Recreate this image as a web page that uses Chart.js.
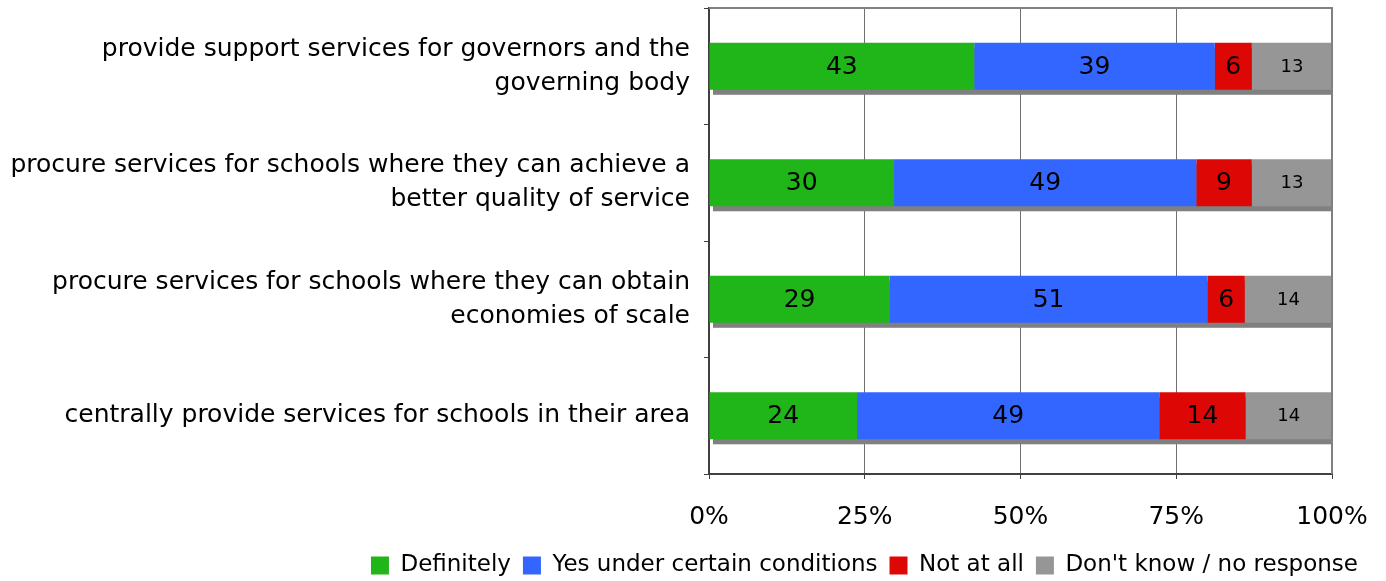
<!DOCTYPE html>
<html>
<head>
<meta charset="utf-8">
<script src="https://cdn.jsdelivr.net/npm/chart.js@4/dist/chart.umd.min.js"></script>
<style>
  html, body { margin: 0; padding: 0; background: #fff; }
  #wrap { width: 1386px; height: 581px; }
</style>
</head>
<body>
<div id="wrap"><canvas id="grafica"></canvas></div>
<script>
// Categorías (de arriba hacia abajo)
const categorias = [
  ['provide support services for governors and the', 'governing body'],
  ['procure services for schools where they can achieve a', 'better quality of service'],
  ['procure services for schools where they can obtain', 'economies of scale'],
  'centrally provide services for schools in their area'
];

// Respuestas por serie
const definitely = [43, 30, 29, 24];
const yesConditions = [39, 49, 51, 49];
const notAtAll = [6, 9, 6, 14];
const dontKnow = [13, 13, 14, 14];

const ticksX = [0, 25, 50, 75, 100];

const series = [
  { label: 'Definitely', datos: definitely, color: '#20B519' },
  { label: 'Yes under certain conditions', datos: yesConditions, color: '#3366FF' },
  { label: 'Not at all', datos: notAtAll, color: '#DD0806' },
  { label: "Don't know / no response", datos: dontKnow, color: '#969696' }
];

// Total por fila para pasar a porcentaje (barra al 100%)
const totales = categorias.map((c, i) => series.reduce((s, d) => s + d.datos[i], 0));

const FUENTE = "'DejaVu Sans', Verdana, sans-serif";

// Sombra gris bajo cada barra
const sombraBarras = {
  id: 'sombraBarras',
  beforeDatasetsDraw(chart) {
    const ctx = chart.ctx;
    const area = chart.chartArea;
    const meta = chart.getDatasetMeta(0);
    ctx.save();
    ctx.fillStyle = '#808080';
    meta.data.forEach(bar => {
      const h = bar.height;
      ctx.fillRect(area.left + 4, bar.y - h / 2 + 5, area.right - area.left - 4, h);
    });
    ctx.restore();
  }
};

// Valores escritos en el centro de cada segmento
const etiquetasBarras = {
  id: 'etiquetasBarras',
  afterDatasetsDraw(chart) {
    const ctx = chart.ctx;
    ctx.save();
    ctx.textAlign = 'center';
    ctx.textBaseline = 'middle';
    ctx.fillStyle = '#000';
    chart.data.datasets.forEach((ds, di) => {
      const meta = chart.getDatasetMeta(di);
      ctx.font = (di === 3 ? '18px ' : '25px ') + FUENTE;
      meta.data.forEach((bar, i) => {
        const cx = (bar.x + bar.base) / 2;
        ctx.fillText(String(ds.valores[i]), cx, bar.y + 1);
      });
    });
    ctx.restore();
  }
};

// Borde superior y derecho del área del gráfico
const bordeArea = {
  id: 'bordeArea',
  afterDraw(chart) {
    const ctx = chart.ctx;
    const a = chart.chartArea;
    ctx.save();
    ctx.strokeStyle = '#808080';
    ctx.lineWidth = 2;
    ctx.beginPath();
    ctx.moveTo(a.left, a.top);
    ctx.lineTo(a.right, a.top);
    ctx.lineTo(a.right, a.bottom);
    ctx.stroke();
    ctx.restore();
  }
};

new Chart(document.getElementById('grafica').getContext('2d'), {
  type: 'bar',
  data: {
    labels: categorias,
    datasets: series.map(s => ({
      label: s.label,
      data: s.datos.map((v, i) => v / totales[i] * 100),
      valores: s.datos,
      backgroundColor: s.color,
      borderWidth: 0,
      barPercentage: 0.404,
      categoryPercentage: 1
    }))
  },
  options: {
    indexAxis: 'y',
    responsive: true,
    maintainAspectRatio: false,
    animation: false,
    layout: { padding: { top: 8, right: 16, left: 0, bottom: -6 } },
    plugins: {
      legend: {
        position: 'bottom',
        align: 'end',
        labels: {
          font: { family: FUENTE, size: 23 },
          color: '#000',
          boxWidth: 18,
          boxHeight: 18,
          padding: 12
        }
      },
      tooltip: { enabled: false }
    },
    scales: {
      x: {
        stacked: true,
        min: 0,
        max: 100,
        afterBuildTicks(scale) {
          scale.ticks = ticksX.map(v => ({ value: v }));
        },
        afterFit(scale) {
          scale.paddingRight = 54;
          scale.paddingLeft = 0;
          scale.height = 68;
        },
        ticks: {
          callback: v => v + '%',
          font: { family: FUENTE, size: 25 },
          color: '#000',
          padding: 23,
          maxRotation: 0
        },
        grid: { color: '#707070', lineWidth: 1, tickLength: 5, tickColor: '#404040' },
        border: { color: '#404040', width: 2 }
      },
      y: {
        stacked: true,
        afterFit(scale) {
          scale.width = 709;
          scale.paddingTop = 0;
          scale.paddingBottom = 0;
        },
        ticks: {
          font: { family: FUENTE, size: 25, lineHeight: 1.36 },
          color: '#000',
          padding: 14
        },
        grid: { drawOnChartArea: false, tickLength: 5, tickColor: '#404040', offset: true },
        border: { color: '#404040', width: 2 }
      }
    }
  },
  plugins: [sombraBarras, etiquetasBarras, bordeArea]
});
</script>
</body>
</html>
